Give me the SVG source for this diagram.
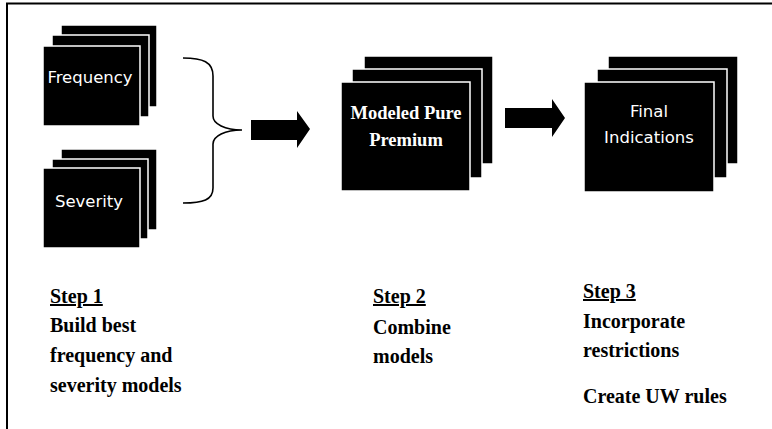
<svg xmlns="http://www.w3.org/2000/svg" width="772" height="429" viewBox="0 0 772 429">
<style>
.card{fill:#000;stroke:#fff;stroke-width:1.5}
.lbl{fill:#fff;font-family:"DejaVu Sans",sans-serif;font-size:16.5px;text-anchor:middle}
.slbl{fill:#fff;font-family:"Liberation Serif",serif;font-weight:bold;font-size:18.5px;text-anchor:middle}
.step{fill:#000;font-family:"Liberation Serif",serif;font-weight:bold;font-size:20px}
.frame{stroke:#000;stroke-width:2;fill:none}
</style>
<rect width="772" height="429" fill="#fff"/>
<g id="frame">
<line class="frame" x1="6" y1="3.5" x2="772" y2="3.5"/>
<line class="frame" x1="7" y1="3" x2="7" y2="429"/>
</g>
<g id="frequency">
<rect class="card" x="61" y="25" width="96" height="82"/>
<rect class="card" x="52" y="35" width="97" height="82"/>
<rect class="card" x="43" y="46" width="97" height="80"/>
<text class="lbl" x="90" y="83">Frequency</text>
</g>
<g id="severity">
<rect class="card" x="61" y="149" width="96" height="81"/>
<rect class="card" x="52" y="159" width="96" height="80"/>
<rect class="card" x="43" y="168" width="97" height="80"/>
<text class="lbl" x="89" y="207">Severity</text>
</g>
<g id="modeled-pure-premium">
<rect class="card" x="364" y="56" width="129" height="108"/>
<rect class="card" x="352" y="69" width="130" height="109"/>
<rect class="card" x="341" y="82" width="129" height="109"/>
<text class="slbl" x="406" y="119">Modeled Pure</text>
<text class="slbl" x="406" y="146">Premium</text>
</g>
<g id="final-indications">
<rect class="card" x="608" y="56" width="130" height="108"/>
<rect class="card" x="597" y="69" width="130" height="109"/>
<rect class="card" x="584" y="82" width="130" height="110"/>
<text class="lbl" x="649" y="117">Final</text>
<text class="lbl" x="649" y="143">Indications</text>
</g>
<g id="connectors">
<path d="M183,58 C203,58 213,62 213,76 L213,116 C213,124 225,130 242,130 C225,130 213,136 213,144 L213,188 C213,200 203,203 183,203" fill="none" stroke="#000" stroke-width="1.6"/>
<polygon points="251,120 297,120 297,111 310,129 297,148 297,140 251,140" fill="#000"/>
<polygon points="505,108 552,108 552,99 565,118 552,137 552,128 505,128" fill="#000"/>
</g>
<g id="steps">
<text class="step" x="50" y="303" text-decoration="underline">Step 1</text>
<text class="step" x="50" y="332">Build best</text>
<text class="step" x="50" y="362">frequency and</text>
<text class="step" x="50" y="392">severity models</text>
<text class="step" x="373" y="303" text-decoration="underline">Step 2</text>
<text class="step" x="373" y="334">Combine</text>
<text class="step" x="373" y="363">models</text>
<text class="step" x="583" y="298" text-decoration="underline">Step 3</text>
<text class="step" x="583" y="328">Incorporate</text>
<text class="step" x="583" y="357">restrictions</text>
<text class="step" x="583" y="403">Create UW rules</text>
</g>
</svg>
